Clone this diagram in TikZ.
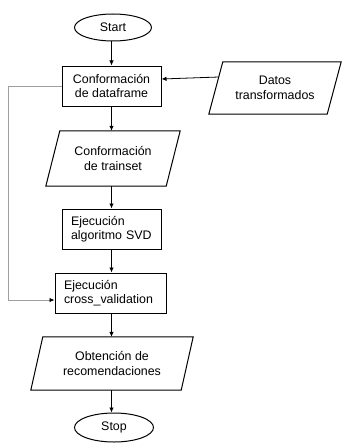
\documentclass[tikz,border=0pt]{standalone}
\usepackage{fontspec}
\setmainfont{Liberation Sans}
\usetikzlibrary{shapes.geometric,arrows.meta}
\begin{document}
\begin{tikzpicture}[x=1pt,y=-1pt,
  every node/.style={font=\fontsize{12.4}{14.5}\selectfont},
  term/.style={draw,ellipse,line width=1pt,minimum width=77pt,minimum height=27pt,inner sep=0pt},
  proc/.style={draw,rectangle,line width=1pt,minimum height=40pt,align=center,inner sep=0pt},
  procl/.style={draw,rectangle,line width=1pt,minimum height=40pt,align=left,inner xsep=9pt,inner ysep=0pt},
  io/.style={rectangle,minimum height=#1,align=center,inner sep=0pt},
  para/.style={line width=1pt},
  arr/.style={line width=0.8pt,-{Latex[length=5pt,width=4.5pt]}},
  loop/.style={line width=0.8pt,draw=gray!75,-{Latex[length=5pt,width=4.5pt,black]}}
]
\useasboundingbox (0,0) rectangle (342,444);
\fill[white] (0,0) rectangle (342,444);

\node[term] (start) at (113,27.5) {Start};
\node[proc,minimum width=99pt] (df) at (111.5,86) {Conformación\\de dataframe};
\node[io=55pt,minimum width=120pt] (ts) at (113,158.5) {Conformación\\de trainset};
\node[procl,text width=81pt] (svd) at (111.5,229) {Ejecución\\algoritmo SVD};
\node[procl,text width=93pt] (cv) at (110.5,293) {Ejecución\\cross\_validation};
\node[io=53pt,minimum width=150pt] (ob) at (112,363.5) {Obtención de\\recomendaciones};
\node[term,minimum width=79pt,minimum height=29pt] (stop) at (114,427.5) {Stop};
\node[io=52pt,minimum width=118pt] (dt) at (275,88) {Datos\\transformados};

% parallelogram outlines
\draw[para] ([xshift=7pt]ts.north west) -- ([xshift=7pt]ts.north east) -- ([xshift=-7pt]ts.south east) -- ([xshift=-7pt]ts.south west) -- cycle;
\draw[para] ([xshift=6pt]ob.north west) -- ([xshift=6pt]ob.north east) -- ([xshift=-6pt]ob.south east) -- ([xshift=-6pt]ob.south west) -- cycle;
\draw[para] ([xshift=7pt]dt.north west) -- ([xshift=7pt]dt.north east) -- ([xshift=-7pt]dt.south east) -- ([xshift=-7pt]dt.south west) -- cycle;

\coordinate (lp) at (8,86);

\draw[arr] (start.south -| df.north) -- (df.north);
\draw[arr] (df.south) -- (df.south |- ts.north);
\draw[arr] (ts.south -| svd.north) -- (svd.north);
\draw[arr] (svd.south) -- (svd.south |- cv.north);
\draw[arr] (cv.south -| svd.south) -- (svd.south |- ob.north);
\draw[arr] (ob.south -| svd.south) -- (svd.south |- stop.north);
\draw[arr] ([xshift=3pt,yshift=11pt]dt.west) -- ([yshift=7pt]df.east);
\draw[loop] (df.west) -- (lp) |- ([yshift=-7pt]cv.west);
\end{tikzpicture}
\end{document}
